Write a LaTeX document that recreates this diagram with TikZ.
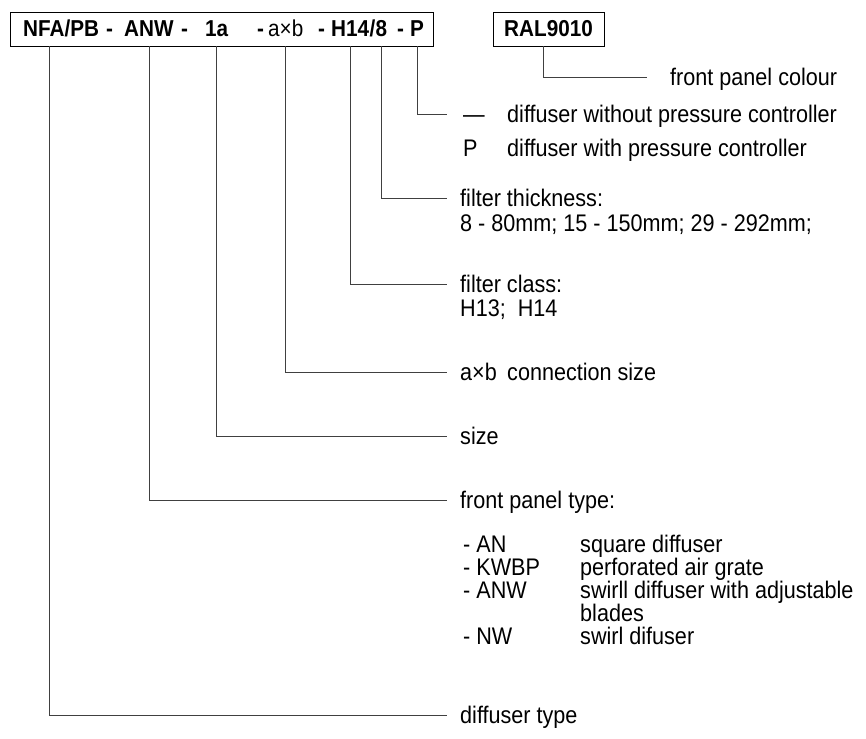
\documentclass[tikz,border=0pt]{standalone}
\usepackage{fontspec}
\setmainfont{Liberation Sans}[FakeStretch=0.9]
\usetikzlibrary{positioning}

\begin{document}
\begin{tikzpicture}[x=1pt, y=-1pt,
    lead/.style={draw=black!75, line width=0.8pt},
    codebox/.style={draw, line width=0.9pt, inner sep=0pt},
    hdr/.style={font=\fontsize{23}{28}\selectfont\bfseries, inner sep=0pt, anchor=base west},
    txt/.style={font=\fontsize{24}{28}\selectfont, inner sep=0pt,
      text height=17pt, text depth=0pt, anchor=west}]
  \useasboundingbox (0,0) rectangle (866,738);
  % type code boxes
  \node[codebox, minimum width=423pt, minimum height=34pt] (code) at (221.5,29) {};
  \node[codebox, font=\fontsize{23}{28}\selectfont\bfseries,
    minimum width=111pt, minimum height=34pt] (ral) at (548.5,29) {RAL9010};
  % code parts
  \node[hdr] (tNFA) at (23,37) {NFA/PB};
  \node[hdr] (d1) at (106,37) {-};
  \node[hdr] (tANW) at (124,37) {ANW};
  \node[hdr] (d2) at (181,37) {-};
  \node[hdr] (t1a) at (205,37) {1a};
  \node[hdr] (d3) at (257,37) {-};
  \node[hdr, font=\fontsize{23}{28}\selectfont] (tAxB) at (268,37) {a×b};
  \node[hdr] (d4) at (318,37) {-};
  \node[hdr] (tH) at (331,37) {H14};
  \node[hdr] (tSl) at (tH.base east) {/};
  \node[hdr] (t8) at (tSl.base east) {8};
  \node[hdr] (d5) at (397,37) {-};
  \node[hdr] (tP) at (410,37) {P};
  % explanations
  \node[txt] (lColour) at (670,77) {front panel colour};
  \node[txt] (lNoPc) at (463,114) {—};
  \node[txt] (lNoPcT) at (507,114) {diffuser without pressure controller};
  \node[txt] (lPc) at (463,148) {P};
  \node[txt] (lPcT) at (507,148) {diffuser with pressure controller};
  \node[txt] (lThick) at (460,198) {filter thickness:};
  \node[txt] (lThickV) at (460,223) {8 - 80mm; 15 - 150mm; 29 - 292mm;};
  \node[txt] (lClass) at (460,284) {filter class:};
  \node[txt] (lClassV) at (460,308) {H13;\ \ H14};
  \node[txt] (lConn) at (460,372) {a×b};
  \node[txt] (lConnT) at (507,372) {connection size};
  \node[txt] (lSize) at (460,436) {size};
  \node[txt] (lPanel) at (460,500) {front panel type:};
  \foreach \y/\k/\d [count=\i] in {544/- AN/square diffuser,
      567/- KWBP/perforated air grate,
      590/- ANW/swirll diffuser with adjustable,
      636/- NW/swirl difuser} {
    \node[txt] (lK\i) at (463,\y) {\k};
    \node[txt] (lD\i) at (580,\y) {\d};
  }
  \node[txt] (lBlades) at (580,613) {blades};
  \node[txt] (lDtype) at (460,715) {diffuser type};
  % leaders
  \draw[lead] ([xshift=-5.5pt]ral.south) |- ([xshift=-23pt]lColour.west);
  \draw[lead] (tP.south |- code.south) |- ([xshift=-16pt]lNoPc.west);
  \draw[lead] (t8.south |- code.south) |- ([xshift=-13pt]lThick.west);
  \draw[lead] (tH.south |- code.south) |- ([xshift=-13pt]lClass.west);
  \draw[lead] (tAxB.south |- code.south) |- ([xshift=-13pt]lConn.west);
  \draw[lead] (t1a.south |- code.south) |- ([xshift=-13pt]lSize.west);
  \draw[lead] (tANW.south |- code.south) |- ([xshift=-13pt]lPanel.west);
  \draw[lead] ([xshift=-12pt]tNFA.south |- code.south) |- ([xshift=-13pt]lDtype.west);
\end{tikzpicture}
\end{document}
